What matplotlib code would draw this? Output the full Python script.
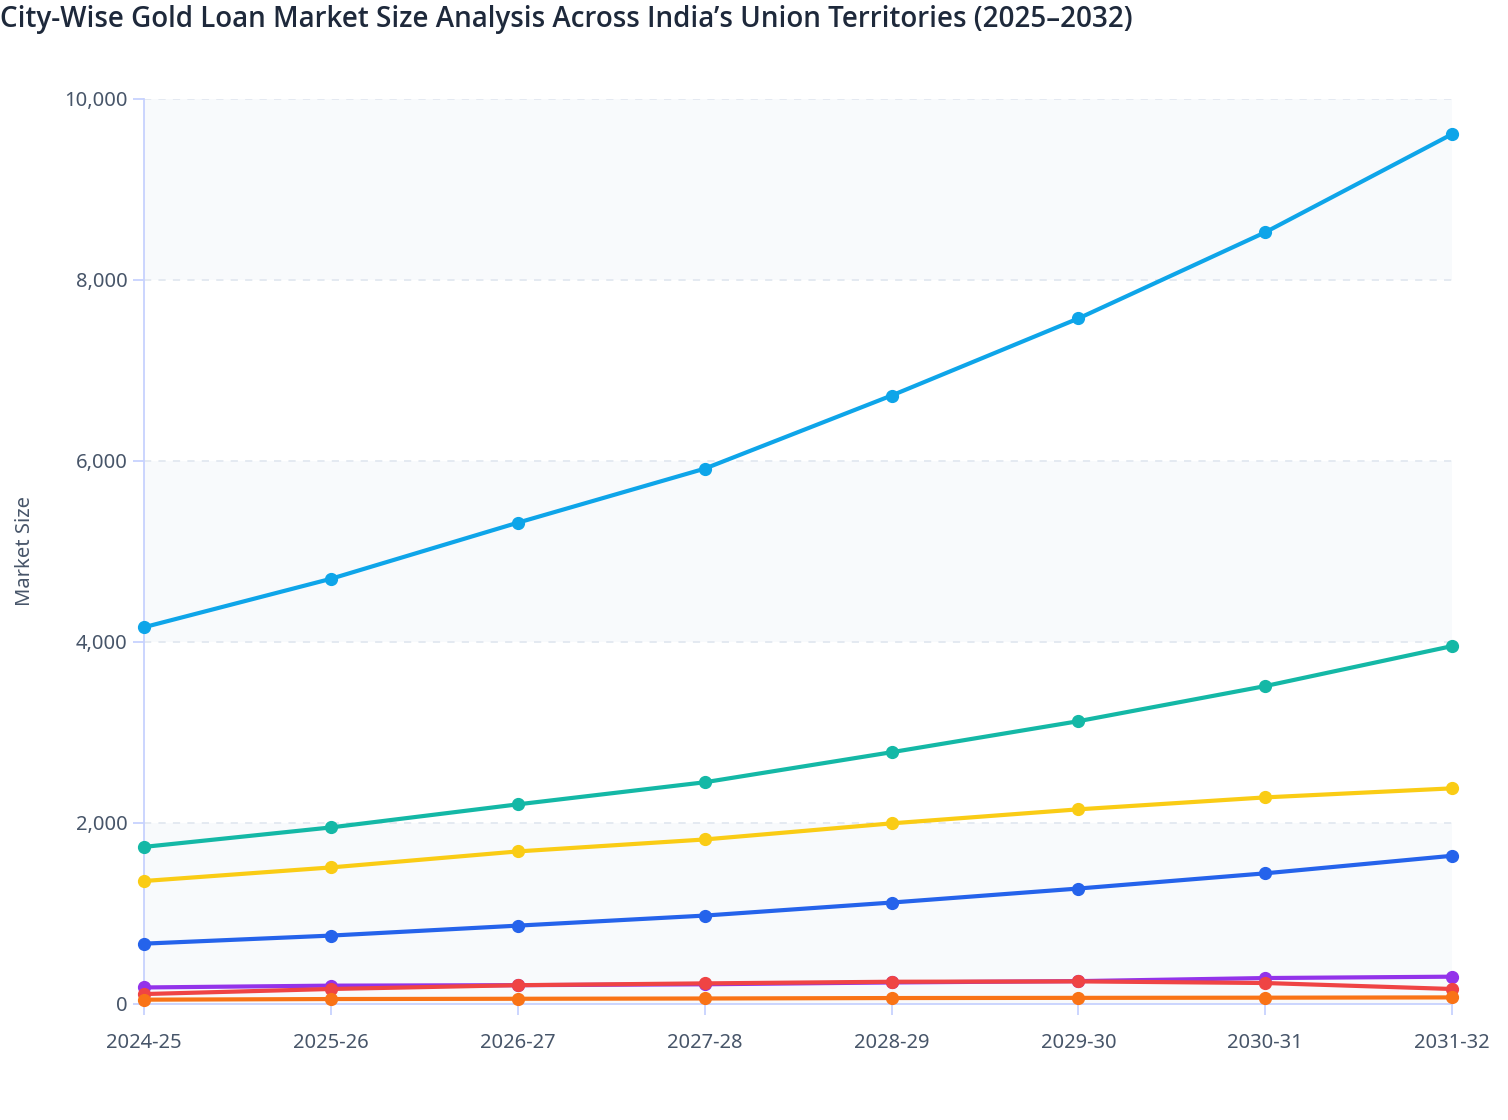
import matplotlib.pyplot as plt
import numpy as np

plt.rcParams['font.family'] = ['Noto Sans', 'DejaVu Sans']

years = ['2024-25', '2025-26', '2026-27', '2027-28', '2028-29', '2029-30', '2030-31', '2031-32']

# market size per union territory
s_lightblue = [4160, 4695, 5315, 5912, 6720, 7572, 8524, 9609]
s_teal = [1733, 1948, 2203, 2447, 2779, 3122, 3510, 3952]
s_yellow = [1356, 1506, 1683, 1815, 1993, 2148, 2280, 2380]
s_blue = [664, 753, 863, 974, 1118, 1273, 1441, 1635]
s_purple = [180, 200, 205, 215, 235, 250, 284, 299]
s_red = [107, 163, 205, 225, 243, 247, 229, 163]
s_orange = [45, 52, 55, 58, 63, 65, 67, 70]

series = [
    (s_lightblue, '#0ea5e9'),
    (s_teal, '#14b8a6'),
    (s_yellow, '#facc15'),
    (s_blue, '#2563eb'),
    (s_purple, '#9333ea'),
    (s_red, '#ef4444'),
    (s_orange, '#f97316'),
]

fig = plt.figure(figsize=(15.08, 11.2), dpi=100)
ax = fig.add_axes([0.0955, 0.1038, 0.8675, 0.8081])

x = np.arange(len(years))
for vals, col in series:
    ax.plot(x, vals, color=col, linewidth=3.0, marker='o', markersize=8.5,
            solid_capstyle='round', zorder=3, clip_on=False)

# alternating bands
for lo in range(0, 10000, 4000):
    ax.axhspan(lo, lo + 2000, color='#f8fafc', zorder=0, lw=0)
for yv in range(2000, 10001, 2000):
    ax.axhline(yv, color='#e2e8f0', lw=1.3, ls=(0, (4, 4)), zorder=1)

ax.set_xlim(0, 7)
ax.set_ylim(0, 10000)
ax.set_xticks(x)
ax.set_xticklabels(years)
ax.set_yticks(range(0, 10001, 2000))
ax.set_yticklabels(['{:,}'.format(v) for v in range(0, 10001, 2000)])

for s in ['top', 'right']:
    ax.spines[s].set_visible(False)
for s in ['left', 'bottom']:
    ax.spines[s].set_color('#c7d2fe')
    ax.spines[s].set_linewidth(1.3)
ax.tick_params(axis='both', colors='#c7d2fe', length=8, width=1.3, labelsize=14.5,
               labelcolor='#475569')
ax.tick_params(axis='x', pad=13)
ax.tick_params(axis='y', pad=4)

ax.set_ylabel('Market Size', fontsize=14.5, color='#475569')
ax.yaxis.set_label_coords(-0.0835, 0.5)

fig.text(0.0, 0.983, 'City-Wise Gold Loan Market Size Analysis Across India\u2019s Union Territories (2025\u20132032)',
         fontsize=20, fontweight='semibold', color='#1e293b', ha='left', va='center',
         family=['Open Sans', 'DejaVu Sans'])

fig.savefig('out.png', dpi=100, facecolor='white')
